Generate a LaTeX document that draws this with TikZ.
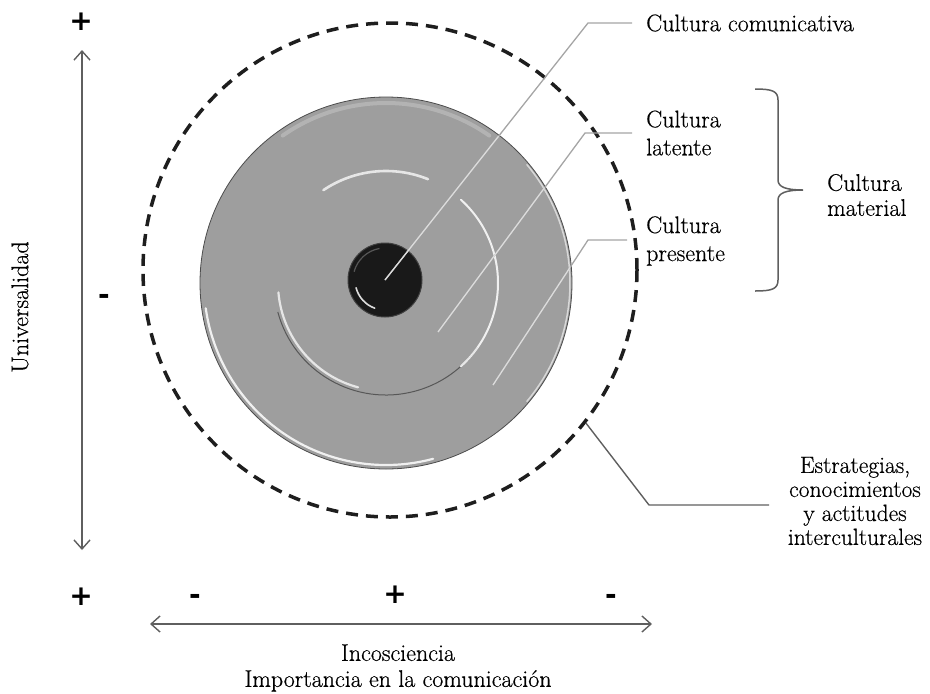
\documentclass[tikz,border=0pt]{standalone}
\usepackage{fontspec}
\setmainfont{Latin Modern Roman}[FakeBold=0.5]
\newfontfamily\signfont{DejaVu Sans}
\usetikzlibrary{arrows.meta}
\definecolor{diskgray}{RGB}{158,158,158}
\definecolor{leadgray}{RGB}{165,165,165}
\definecolor{leadlight}{RGB}{220,220,220}
\definecolor{axisgray}{RGB}{95,95,95}
\definecolor{dashcol}{RGB}{30,30,30}
\begin{document}
\begin{tikzpicture}[x=1pt,y=-1pt]
\tikzset{
  lead/.style={draw=leadgray, line width=1.3pt},
  leadin/.style={draw=leadlight, line width=1.3pt},
  darklead/.style={draw=axisgray, line width=1.4pt},
  axisline/.style={draw=axisgray, line width=1.4pt, {Straight Barb[length=9pt,width=16pt,line width=1.4pt]}-{Straight Barb[length=9pt,width=16pt,line width=1.4pt]}},
  sign/.style={font=\signfont\bfseries\fontsize{28}{28}\selectfont, inner sep=0pt, anchor=base},
  lbl/.style={inner sep=0pt, align=left, font=\fontsize{24}{28}\selectfont},
  hilite/.style={white, line cap=round},
}
\useasboundingbox (0,0) rectangle (930,694);

% outer dashed circle
\node[circle, minimum size=494pt, inner sep=0pt, draw=dashcol, line width=3.5pt, dash pattern=on 12pt off 8pt] (ext) at (390,270) {};

% grey disk
\node[circle, minimum size=372pt, inner sep=0pt, fill=diskgray, draw=gray!60!black, line width=0.8pt] (disk) at (386,283) {};
\draw[hilite, line width=2.2pt, opacity=.85] ([shift={(188:182pt)}]disk.center) arc[start angle=188, end angle=285, radius=182pt];
\draw[hilite, line width=1.5pt, opacity=.6] ([shift={(-40:184pt)}]disk.center) arc[start angle=-40, end angle=40, radius=184pt];
\draw[hilite, line width=4pt, opacity=.22] ([shift={(55:180pt)}]disk.center) arc[start angle=55, end angle=125, radius=180pt];

% inner ring
\node[circle, minimum size=224pt, inner sep=0pt] (ring) at (386,283) {};
\draw[gray!45!black, line width=1pt, opacity=.7] ([shift={(195:112pt)}]ring.center) arc[start angle=195, end angle=325, radius=112pt];
\draw[hilite, line width=2pt, opacity=.85] ([shift={(-48:112pt)}]ring.center) arc[start angle=-48, end angle=48, radius=112pt];
\draw[hilite, line width=2.2pt, opacity=.75] ([shift={(185:108pt)}]ring.center) arc[start angle=185, end angle=255, radius=108pt];
\draw[hilite, line width=2.6pt, opacity=.75] ([shift={(68:112pt)}]ring.center) arc[start angle=68, end angle=124, radius=112pt];

% dark core
\node[circle, minimum size=74pt, inner sep=0pt, fill=black!90, draw=black!75, line width=1pt] (core) at (385,280) {};
\draw[gray, line width=1.2pt, opacity=.6] ([shift={(100:32pt)}]core.center) arc[start angle=100, end angle=165, radius=32pt];
\draw[hilite, line width=1.6pt, opacity=.85] ([shift={(195:30pt)}]core.center) arc[start angle=195, end angle=250, radius=30pt];

% labels
\node[lbl, anchor=west] (comm) at (646,23) {Cultura comunicativa};
\node[lbl, anchor=west] (lat) at (646,133) {Cultura\\latente};
\node[lbl, anchor=west] (pres) at (646,241) {Cultura\\presente};
\node[inner sep=0pt, align=left, font=\fontsize{24}{25}\selectfont, anchor=west] (mat) at (827,195) {Cultura\\material};
\node[inner sep=0pt, align=center, font=\fontsize{23.5}{24}\selectfont] (strat) at (855,501) {Estrategias,\\conocimientos\\y actitudes\\interculturales};

% leader lines
\coordinate (b1) at (588,23);
\coordinate (s2) at (438,332);
\coordinate (b2) at (585,133);
\coordinate (s3) at (493,385);
\coordinate (b3) at (588,240);
\coordinate (b4) at (649,505);
\coordinate (e4) at (769,505);
\draw[lead] (core.center) -- (b1) -- ([xshift=-14pt]comm.west);
\draw[lead] (s2) -- (b2) -- ([xshift=-14pt]lat.west);
\draw[lead] (s3) -- (b3) -- ([xshift=-19pt,yshift=1pt]pres.west);
\begin{scope}
\clip (disk.center) circle[radius=185pt];
\draw[leadin] (core.center) -- (b1);
\draw[leadin] (s2) -- (b2);
\draw[leadin] (s3) -- (b3);
\end{scope}
\draw[darklead] (ext.-38) -- (b4) -- (e4);

% brace
\coordinate (tip) at (803,190);
\draw[axisgray, line width=1.5pt] (755,89) .. controls (772,89) and (778,91) .. (778,100) -- (778,180) .. controls (778,187) and (786,190) .. (tip) .. controls (786,190) and (778,193) .. (778,200) -- (778,280) .. controls (778,289) and (772,291) .. (755,291);

% axes
\node[sign] (pt) at (81,30) {+};
\node[sign] (pb) at (81,605) {+};
\node[sign] (mb1) at (195,604) {-};
\node[sign] (pb2) at (395,603) {+};
\node[sign] (mb2) at (611,604) {-};
\node[sign] (ml) at (104,304) {-};
\coordinate (vt) at (82,50);
\coordinate (vb) at (82,550);
\coordinate (hl) at (150,624);
\coordinate (hr) at (652,624);
\draw[axisline] (vt) -- (vb);
\draw[axisline] (hl) -- (hr);
\node[inner sep=0pt, rotate=90, font=\fontsize{24}{26}\selectfont] (univ) at (20,307) {Universalidad};
\node[inner sep=0pt, align=center, font=\fontsize{24}{26}\selectfont] (incos) at (398,668) {Incosciencia\\Importancia en la comunicación};
\end{tikzpicture}
\end{document}
